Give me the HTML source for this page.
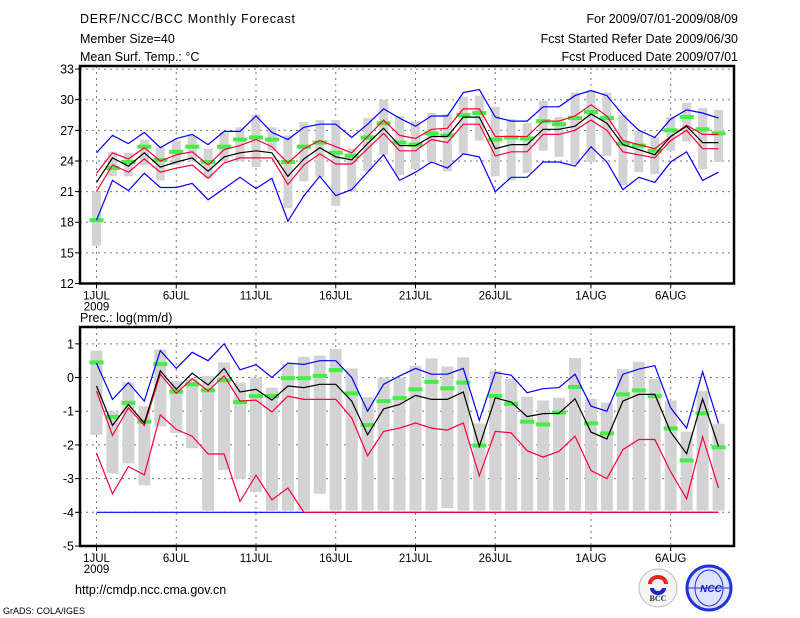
<!DOCTYPE html>
<html><head><meta charset="utf-8"><style>
html,body{margin:0;padding:0;background:#fff;}
svg{display:block;font-family:"Liberation Sans",sans-serif;}
</style></head><body>
<svg id="chart" width="800" height="618" viewBox="0 0 800 618" xmlns="http://www.w3.org/2000/svg">
<g font-size="12.5" fill="#000">
<text x="80" y="23" textLength="215">DERF/NCC/BCC Monthly Forecast</text>
<text x="80" y="43">Member Size=40</text>
<text x="80" y="61">Mean Surf. Temp.: °C</text>
<text x="738" y="23" text-anchor="end">For 2009/07/01-2009/08/09</text>
<text x="738" y="43" text-anchor="end">Fcst Started Refer Date 2009/06/30</text>
<text x="738" y="61" text-anchor="end">Fcst Produced Date 2009/07/01</text>
</g>
<g id="top"></g>
<g id="bot"></g>
<text x="80" y="322" font-size="12.5">Prec.: log(mm/d)</text>
<text x="75" y="594" font-size="12.5">http://cmdp.ncc.cma.gov.cn</text>
<text x="3" y="614" font-size="9">GrADS: COLA/IGES</text>
<g>
<circle cx="658" cy="588" r="19" fill="#f4f4f4" stroke="#bbb"/>
<path d="M650 584 a8 7 0 1 1 16 0" fill="none" stroke="#e22" stroke-width="4"/>
<path d="M652 588 a6 5 0 0 0 12 0" fill="none" stroke="#22c" stroke-width="4"/>
<text x="658" y="601" font-size="8" font-family="Liberation Serif,serif" text-anchor="middle" font-weight="bold" fill="#333">BCC</text>
</g>
<g>
<circle cx="709" cy="588" r="22" fill="#dde3ff" stroke="#2233dd" stroke-width="3"/>
<ellipse cx="709" cy="588" rx="14" ry="18" fill="none" stroke="#2233dd"/>
<line x1="688" y1="588" x2="730" y2="588" stroke="#2233dd"/>
<text x="711" y="592" font-size="10" font-weight="bold" font-style="italic" text-anchor="middle" fill="#1122cc">NCC</text>
</g>
</svg>
<script>
// ---- temperature data (days 1..40) ----
const days = Array.from({length:40},(_,i)=>i+1);
const tBlueHi = [24.8,26.5,25.7,26.8,25.3,26.2,26.6,25.6,26.9,26.9,28.4,26.8,26.1,27.3,27.6,27.6,26.3,27.6,29.1,28.2,27.4,28.4,28.4,30.7,31.0,28.3,27.9,27.9,29.3,29.3,30.4,30.9,30.4,28.5,27.0,26.3,28.1,29.0,28.7,28.2];
const tRedHi = [22.8,24.8,24.2,25.3,24.0,24.6,24.9,23.6,25.1,25.5,26.1,25.4,23.8,25.2,26.0,25.4,24.8,26.4,28.0,26.5,26.2,27.1,27.2,29.1,29.1,26.4,26.4,26.4,27.9,27.9,28.4,29.5,28.4,26.0,25.6,25.2,26.4,27.5,26.6,26.6];
const tMean = [21.9,24.3,23.5,24.8,23.4,23.9,24.3,23.0,24.4,24.8,25.0,24.8,22.5,24.2,25.3,24.4,24.1,25.7,27.2,25.5,25.5,26.4,26.4,28.3,28.3,25.2,25.6,25.6,27.1,27.1,27.4,28.6,27.7,25.6,25.1,24.6,26.4,27.4,25.8,25.8];
const tRedLo = [21.0,23.6,22.9,24.2,22.9,23.3,23.6,22.3,23.8,24.3,24.3,24.3,21.7,23.6,24.7,23.7,23.7,25.2,26.7,25.0,25.0,26.1,25.8,27.6,27.6,24.5,24.9,24.9,26.6,26.6,27.0,28.0,27.0,24.9,24.6,24.3,26.0,27.0,25.2,25.2];
const tBlueLo = [18.2,22.1,21.1,22.8,21.4,21.4,21.8,20.2,21.3,22.4,21.3,22.3,18.1,20.6,22.5,20.6,21.2,22.9,24.6,22.1,22.9,23.9,23.3,24.7,24.4,21.0,22.4,22.4,23.9,23.9,23.5,25.4,23.9,21.2,22.4,21.9,23.9,24.9,22.1,22.9];
const tGreen = [18.2,23.3,23.9,25.4,24.1,24.9,25.4,23.9,25.4,26.1,26.3,26.1,23.9,25.4,25.8,24.8,24.5,26.3,27.7,25.8,25.6,26.7,26.5,28.5,28.7,26.1,26.3,26.2,27.9,27.6,28.2,28.8,28.2,25.7,25.5,25.0,27.0,28.3,27.1,26.7];
const tBarHi = [21.0,24.9,24.8,26.1,25.3,26.0,26.5,25.2,26.8,27.3,28.5,27.3,26.5,27.8,28.0,28.0,25.2,28.2,30.0,28.4,27.9,28.7,28.6,30.3,30.4,29.3,28.1,27.7,29.9,28.3,30.7,30.9,30.7,28.5,27.0,26.3,28.3,29.7,29.2,29.0];
const tBarLo = [15.7,22.5,22.5,23.6,22.1,23.6,24.0,22.3,24.0,24.0,23.4,25.0,19.4,22.0,22.4,19.6,21.0,23.0,24.6,22.6,23.2,24.0,23.0,24.7,26.0,22.5,22.1,22.8,25.0,24.4,23.7,23.9,24.5,21.6,22.9,22.7,25.0,25.9,23.2,23.9];
const tTicks = [12,15,18,21,24,27,30,33];
// ---- precipitation data ----
const pBlueHi = [0.43,-0.65,-0.15,-0.7,0.8,0.27,0.75,0.5,1.0,0.23,0.38,0.0,0.43,0.39,0.5,0.5,0.0,-1.0,-0.2,0.05,0.27,0.1,0.1,0.27,-1.27,0.15,0.07,-0.45,-0.33,-0.3,0.1,-0.85,-1.0,0.1,0.25,0.35,-0.9,-1.5,0.17,-1.36];
const pRedHi = [-0.4,-1.72,-0.9,-1.42,0.1,-0.47,-0.03,-0.4,0.05,-0.7,-0.67,-1.02,-0.55,-0.65,-0.65,-0.65,-1.2,-2.32,-1.6,-1.5,-1.35,-1.5,-1.56,-1.35,-2.92,-1.6,-1.64,-2.17,-2.36,-2.19,-1.74,-2.76,-3.0,-2.14,-1.84,-1.84,-2.8,-3.6,-1.76,-3.28];
const pMean = [-0.25,-1.42,-0.8,-1.35,0.2,-0.35,0.13,-0.22,0.27,-0.43,-0.35,-0.67,-0.25,-0.3,-0.2,-0.2,-0.7,-1.7,-0.93,-0.8,-0.53,-0.65,-0.65,-0.43,-2.04,-0.6,-0.73,-1.16,-1.07,-1.06,-0.63,-1.62,-1.82,-0.7,-0.5,-0.5,-1.62,-2.26,-0.63,-2.04];
const pRedLo = [-2.24,-3.45,-2.64,-2.89,-1.11,-1.54,-1.74,-2.27,-2.27,-3.68,-2.9,-3.63,-3.28,-4,-4,-4,-4,-4,-4,-4,-4,-4,-4,-4,-4,-4,-4,-4,-4,-4,-4,-4,-4,-4,-4,-4,-4,-4,-4,-4];
const pBlueLo = [-4,-4,-4,-4,-4,-4,-4,-4,-4,-4,-4,-4,-4,-4,-4,-4,-4,-4,-4,-4,-4,-4,-4,-4,-4,-4,-4,-4,-4,-4,-4,-4,-4,-4,-4,-4,-4,-4,-4,-4];
const pGreen = [0.45,-1.17,-0.75,-1.31,0.4,-0.42,-0.2,-0.38,-0.08,-0.73,-0.55,-0.55,-0.02,-0.02,0.05,0.22,-0.47,-1.41,-0.7,-0.61,-0.35,-0.13,-0.32,-0.15,-2.02,-0.55,-0.78,-1.31,-1.39,-1.04,-0.28,-1.36,-1.66,-0.5,-0.38,-0.55,-1.51,-2.46,-1.06,-2.07];
const pBarHi = [0.8,-1.0,-0.15,-0.85,0.83,-0.1,-0.05,0.05,0.45,-0.15,0.0,-0.3,0.4,0.62,0.65,0.85,0.27,-0.58,0.0,0.0,0.35,0.57,0.33,0.6,-1.36,0.2,-0.03,-0.57,-0.68,-0.6,0.58,-0.63,-0.75,0.25,0.47,-0.03,-0.68,-1.61,-0.4,-1.37];
const pBarLo = [-1.7,-2.85,-2.55,-3.2,-1.45,-1.65,-2.1,-3.95,-2.75,-3.0,-3.4,-3.95,-3.95,-3.95,-3.45,-3.95,-3.95,-3.95,-3.95,-3.95,-3.95,-3.95,-3.88,-3.95,-3.95,-3.95,-3.95,-3.95,-3.95,-3.95,-3.95,-3.95,-3.95,-3.95,-3.95,-3.95,-3.95,-3.95,-3.95,-3.95];
const pTicks = [-5,-4,-3,-2,-1,0,1];
const dateLabels = ["1JUL","6JUL","11JUL","16JUL","21JUL","26JUL","1AUG","6AUG"];
const dateDays = [1,6,11,16,21,26,32,37];

const NS="http://www.w3.org/2000/svg";
const X0=80,X1=734;
function xs(d){return 96.5+(d-1)*15.95;}
function mk(p,tag,at){const e=document.createElementNS(NS,tag);for(const k in at)e.setAttribute(k,at[k]);p.appendChild(e);return e;}

function panel(g,top,bot,vmin,vmax,ticks,series,barHi,barLo,green,barW,name){
  const ys=v=>bot-(v-vmin)/(vmax-vmin)*(bot-top);
  // grid
  ticks.forEach(t=>{
    if(t>vmin&&t<vmax){const l=mk(g,'line',{x1:X0,x2:X1,y1:ys(t),y2:ys(t),stroke:'#777','stroke-dasharray':'2,4','stroke-width':1});
    
    }
    const tk=mk(g,'line',{x1:X0-5,x2:X0,y1:ys(t),y2:ys(t),stroke:'#000'});
    
    
    const tx=mk(g,'text',{x:X0-6,y:ys(t)+4.5,'text-anchor':'end','font-size':12.5});
    tx.textContent=t;
    
    
  });
  dateDays.forEach((d,i)=>{
    const l=mk(g,'line',{x1:xs(d),x2:xs(d),y1:top,y2:bot,stroke:'#777','stroke-dasharray':'2,4'});
    
    
    mk(g,'line',{x1:xs(d),x2:xs(d),y1:bot,y2:bot+5,stroke:'#000'});
    const tx=mk(g,'text',{x:xs(d),y:bot+16,'text-anchor':'middle','font-size':11.5});
    tx.textContent=dateLabels[i];
    
    
  });
  const yr=mk(g,'text',{x:xs(1),y:bot+27,'text-anchor':'middle','font-size':11.5});
  yr.textContent='2009';
  
  
  // bars
  days.forEach((d,i)=>{
    const r=mk(g,'rect',{x:xs(d)-barW/2,y:ys(barHi[i]),width:barW,height:ys(barLo[i])-ys(barHi[i]),fill:'#d3d3d6'});
    
    
  });
  days.forEach((d,i)=>{
    const r=mk(g,'rect',{x:xs(d)-7,y:ys(green[i])-2,width:14,height:4,fill:'#44ee44'});
    
    
  });
  series.forEach(s=>{
    const pts=days.map((d,i)=>xs(d).toFixed(1)+','+ys(s.v[i]).toFixed(1)).join(' ');
    const pl=mk(g,'polyline',{points:pts,fill:'none',stroke:s.c,'stroke-width':1.2});
    
    
  });
  const fr=mk(g,'rect',{x:X0,y:top,width:X1-X0,height:bot-top,fill:'none',stroke:'#000','stroke-width':2.5});
  
  
}
panel(document.getElementById('top'),66,283.5,12,33.3,tTicks,[
 {v:tBlueLo,c:'#0000ff',n:'lower-bound-line'},{v:tBlueHi,c:'#0000ff',n:'upper-bound-line'},
 {v:tRedLo,c:'#ff0033',n:'lower-spread-line'},{v:tRedHi,c:'#ff0033',n:'upper-spread-line'},
 {v:tMean,c:'#000000',n:'mean-line'}],tBarHi,tBarLo,tGreen,9,'temp');
panel(document.getElementById('bot'),327,546,-5,1.5,pTicks,[
 {v:pBlueLo,c:'#0000ff',n:'lower-bound-line'},{v:pBlueHi,c:'#0000ff',n:'upper-bound-line'},
 {v:pRedLo,c:'#ff0033',n:'lower-spread-line'},{v:pRedHi,c:'#ff0033',n:'upper-spread-line'},
 {v:pMean,c:'#000000',n:'mean-line'}],pBarHi,pBarLo,pGreen,12,'precip');
</script>
</body></html>
